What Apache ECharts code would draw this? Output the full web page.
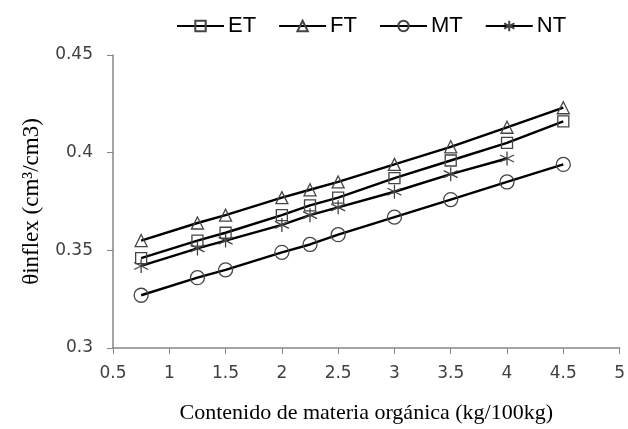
<!DOCTYPE html>
<html>
<head>
<meta charset="utf-8">
<script src="https://cdn.jsdelivr.net/npm/echarts@6/dist/echarts.min.js"></script>
<style>
  html, body { margin: 0; padding: 0; background: #fff; }
  #chart { width: 628px; height: 429px; }
</style>
</head>
<body>
<div id="chart"></div>
<script>
// contenido de materia organica (kg/100kg)
var mo = [0.75, 1.25, 1.5, 2, 2.25, 2.5, 3, 3.5, 4, 4.5];
var et = [0.346, 0.355, 0.359, 0.368, 0.373, 0.377, 0.387, 0.396, 0.405, 0.416];
var ft = [0.355, 0.364, 0.368, 0.377, 0.381, 0.385, 0.394, 0.403, 0.413, 0.423];
var mt = [0.327, 0.336, 0.340, 0.349, 0.353, 0.358, 0.367, 0.376, 0.385, 0.394];
var nt = [0.342, 0.351, 0.355, 0.363, 0.368, 0.372, 0.380, 0.389, 0.397];
var names = ["ET", "FT", "MT", "NT"];

let chart = echarts.init(document.getElementById("chart"));

function pairs(vals) {
    var out = []
    for (var i = 0; i < vals.length; i++) {
        out.push([mo[i], vals[i]])
    }
    return out
}

var asterisk = 'path://M0,-10L0,10M-8.66,-5L8.66,5M-8.66,5L8.66,-5';
var symbols = ['rect', 'triangle', 'circle', asterisk];
var sizes = [11, 12, 14, 14];
var allData = [et, ft, mt, nt];

var series = []
for (var k = 0; k < names.length; k++) {
    series.push({
        name: names[k],
        type: 'line',
        data: pairs(allData[k]),
        symbol: symbols[k],
        symbolSize: sizes[k],
        showAllSymbol: true,
        lineStyle: { color: '#000', width: 2.4 },
        itemStyle: { color: 'rgba(0,0,0,0)', borderColor: '#444', borderWidth: 1.3 },
        emphasis: { disabled: true },
        z: 3
    })
}

let option = {
    animation: false,
    backgroundColor: '#fff',
    legend: {
        top: 10,
        left: 171,
        itemWidth: 47,
        itemHeight: 13,
        itemGap: 22,
        textStyle: { fontFamily: 'Liberation Sans', fontSize: 22, color: '#000', padding: [0, 0, 0, -1] },
        data: names
    },
    grid: { left: 113, right: 8, top: 55, bottom: 81 },
    xAxis: {
        type: 'value',
        min: 0.5,
        max: 5,
        interval: 0.5,
        name: 'Contenido de materia orgánica (kg/100kg)',
        nameLocation: 'middle',
        nameGap: 54,
        nameTextStyle: { fontFamily: 'Liberation Serif', fontSize: 22, color: '#000' },
        axisLine: { lineStyle: { color: '#868686', width: 1.5 } },
        axisTick: { show: true, length: 6, lineStyle: { color: '#868686' } },
        axisLabel: { fontFamily: 'DejaVu Sans', fontSize: 17, color: '#404040', margin: 17 },
        splitLine: { show: false }
    },
    yAxis: {
        type: 'value',
        min: 0.3,
        max: 0.45,
        interval: 0.05,
        name: 'θinflex (cm³/cm3)',
        nameLocation: 'middle',
        nameGap: 70,
        nameRotate: 90,
        nameTextStyle: { fontFamily: 'Liberation Serif', fontSize: 23, color: '#000' },
        axisLine: { show: true, lineStyle: { color: '#868686', width: 1.5 } },
        axisTick: { show: true, length: 6, lineStyle: { color: '#868686' } },
        axisLabel: { fontFamily: 'DejaVu Sans', fontSize: 17, color: '#404040', margin: 20 },
        splitLine: { show: false }
    },
    series: series
};

chart.setOption(option);
</script>
</body>
</html>
